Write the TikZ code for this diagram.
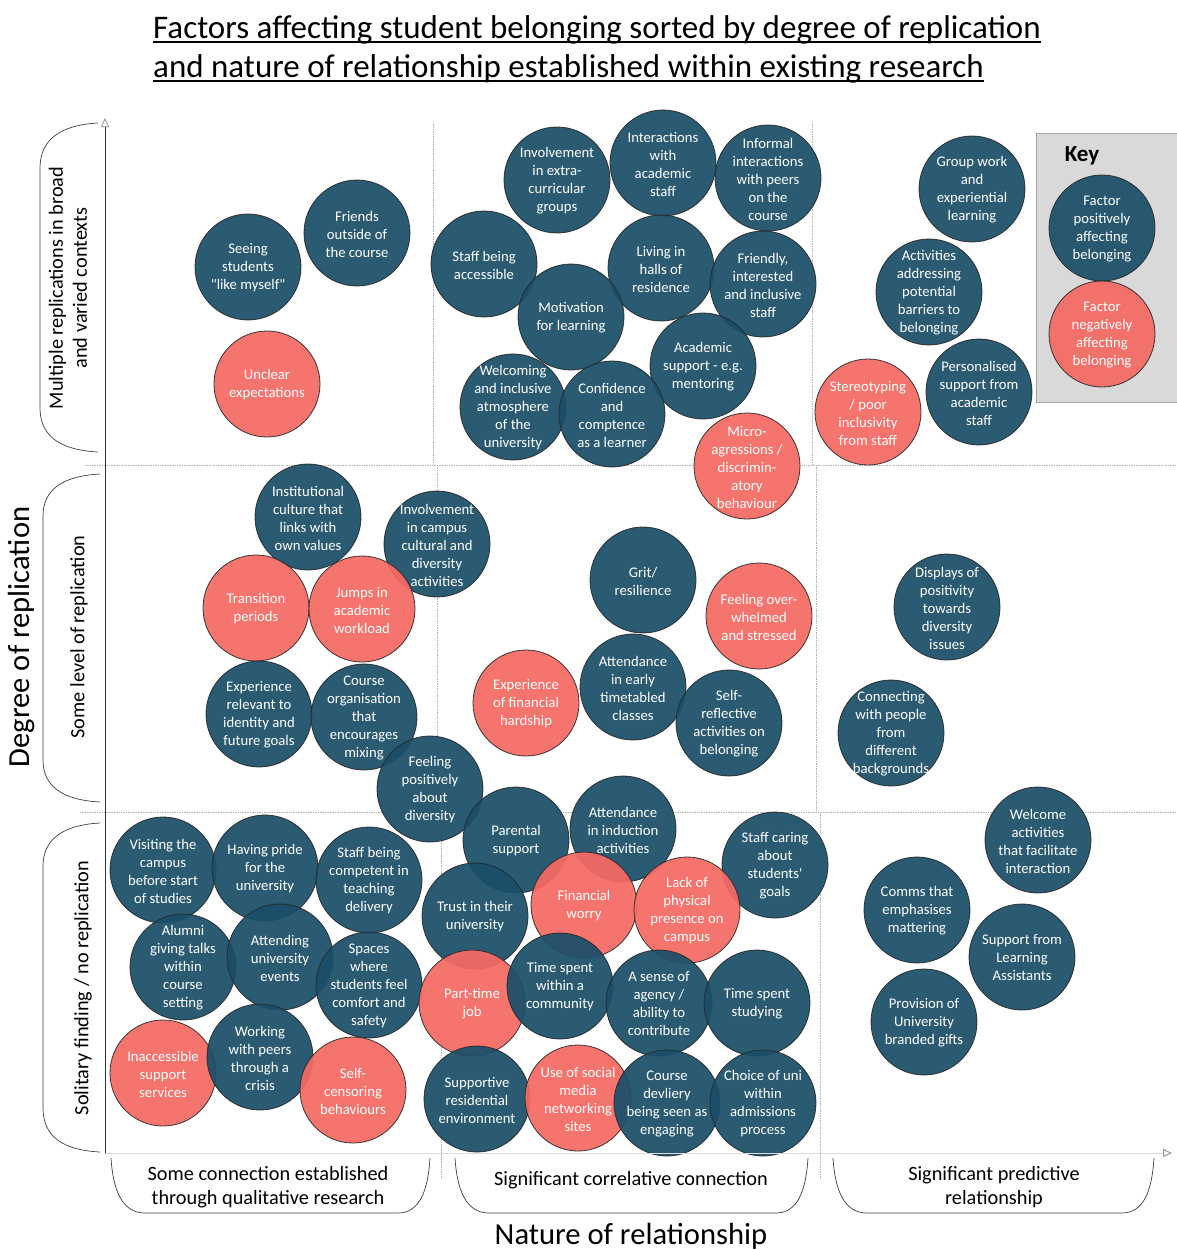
\documentclass[tikz,border=0pt]{standalone}
\usepackage{fontspec}
\setmainfont{Carlito}
\newfontfamily\cfont{Carlito}
\usetikzlibrary{arrows.meta}
\definecolor{cblue}{RGB}{26,79,105}
\definecolor{cred}{RGB}{246,106,99}
\definecolor{keygray}{RGB}{217,217,217}
\pgfdeclarelayer{circ}
\pgfsetlayers{circ,main}
\tikzset{
 fac/.style={circle, draw=black!85, line width=0.8pt, minimum size=106pt, inner sep=0pt, fill opacity=0.93, draw opacity=0.9},
 posf/.style={fac, fill=cblue},
 negf/.style={fac, fill=cred},
 ftxt/.style={align=center, inner sep=0pt, text=white, yshift=-1pt, font=\cfont\fontsize{14.7}{18}\selectfont},
 gridline/.style={draw=black!30, densely dotted, line width=0.7pt},
 brk/.style={draw=black!75, line width=0.7pt},
 bandlbl/.style={align=center, inner sep=0pt, font=\fontsize{20.3}{24}\selectfont},
 biglbl/.style={inner sep=0pt, font=\fontsize{30.6}{34}\selectfont},
 ttl/.style={inner sep=0pt, anchor=base west, font=\fontsize{33}{39}\selectfont},
 uline/.style={line width=1.8pt},
}
\newcommand\fcirc[4]{%
 \begin{pgfonlayer}{circ}\node[#1] (#2) at (#3) {};\end{pgfonlayer}
 \node[ftxt] (#2t) at (#2.center) {#4};}
\begin{document}
\begin{tikzpicture}[x=1pt,y=-1pt]
\begin{pgfonlayer}{circ}
\fill[white] (0,0) rectangle (1176,1250);
\end{pgfonlayer}
\useasboundingbox (0,0) rectangle (1176,1250);

% title
\node[ttl] (t1) at (153,38) {Factors affecting student belonging sorted by degree of replication};
\node[ttl] (t2) at (153,77) {and nature of relationship established within existing research};
\draw[uline] ([yshift=-4pt]t1.base west) -- ([yshift=-4pt]t1.base east);
\draw[uline] ([yshift=-4pt]t2.base west) -- ([yshift=-4pt]t2.base east);

% grid
\begin{pgfonlayer}{circ}
\draw[gridline] (433,122) -- (433,465);
\draw[gridline] (812,122) -- (812,465);
\draw[gridline] (437,465) -- (437,812);
\draw[gridline] (816,465) -- (816,812);
\draw[gridline] (441,812) -- (441,1178);
\draw[gridline] (820,812) -- (820,1178);
\draw[gridline] (85,465) -- (1176,465);
\draw[gridline] (80,812) -- (1176,812);
\end{pgfonlayer}

% key box
\begin{pgfonlayer}{circ}
\draw[fill=keygray, draw=black!35, line width=0.8pt] (1036,133) rectangle (1180,402);
\end{pgfonlayer}
\node[font=\fontsize{23}{26}\selectfont\bfseries, inner sep=0pt] (key) at (1082,156) {Key};

% axes
\coordinate (o) at (105,1153);
\coordinate (ytop) at (105,118);
\coordinate (xend) at (1172,1153);
\draw[draw=black!80, line width=0.7pt, -{Triangle[open, length=9pt, width=8pt, color=black!45]}] (o) -- (ytop);
\draw[draw=black!15, line width=1pt, -{Triangle[open, length=9pt, width=8pt, color=black!40]}] (o) -- (xend);

% left brackets
\draw[brk] (98,123) .. controls (60,125) and (40,140) .. (40,168) -- (40,408) .. controls (40,436) and (60,450) .. (98,452);
\draw[brk] (100,474) .. controls (62,476) and (43,490) .. (43,516) -- (43,760) .. controls (43,786) and (62,800) .. (100,802);
\draw[brk] (100,823) .. controls (62,825) and (43,840) .. (43,866) -- (43,1108) .. controls (43,1136) and (62,1150) .. (100,1152);

% bottom brackets
\draw[brk] (111,1158) .. controls (113,1190) and (122,1213) .. (145,1213) -- (398,1213) .. controls (420,1213) and (428,1190) .. (430,1158);
\draw[brk] (455,1158) .. controls (457,1190) and (466,1213) .. (489,1213) -- (776,1213) .. controls (798,1213) and (806,1190) .. (808,1158);
\draw[brk] (833,1158) .. controls (835,1190) and (844,1213) .. (867,1213) -- (1122,1213) .. controls (1144,1213) and (1152,1190) .. (1154,1158);

% axis labels
\node[biglbl, rotate=90] (ylab) at (22,637) {Degree of replication};
\node[biglbl] (xlab) at (631,1236) {Nature of relationship};
\node[bandlbl, rotate=90] (band1) at (68,288) {Multiple replications in broad\\and varied contexts};
\node[bandlbl, rotate=90] (band2) at (79,637) {Some level of replication};
\node[bandlbl, rotate=90] (band3) at (83,988) {Solitary finding / no replication};
\node[bandlbl] (rel1) at (268,1187) {Some connection established\\through qualitative research};
\node[bandlbl] (rel2) at (631,1180) {Significant correlative connection};
\node[bandlbl] (rel3) at (994,1187) {Significant predictive\\relationship};

% key circles
\fcirc{posf}{k1}{1102,228}{Factor\\positively\\affecting\\belonging}
\fcirc{negf}{k2}{1102,334}{Factor\\negatively\\affecting\\belonging}

% top band
\fcirc{posf}{s1}{248,267}{Seeing\\students\\"like myself"}
\fcirc{posf}{s2}{357,233}{Friends\\outside of\\the course}
\fcirc{negf}{s3}{267,384}{Unclear\\expectations}
\fcirc{posf}{s4}{557,180}{Involvement\\in extra-\\curricular\\groups}
\fcirc{posf}{s5}{663,163}{Interactions\\with\\academic\\staff}
\fcirc{posf}{s6}{768,178}{Informal\\interactions\\with peers\\on the\\course}
\fcirc{posf}{s7}{484,264}{Staff being\\accessible}
\fcirc{posf}{s8}{661,268}{Living in\\halls of\\residence}
\fcirc{posf}{s9}{763,284}{Friendly,\\interested\\and inclusive\\staff}
\fcirc{posf}{s10}{571,317}{Motivation\\for learning}
\fcirc{posf}{s11}{703,366}{Academic\\support - e.g.\\mentoring}
\fcirc{posf}{s12}{513,407}{Welcoming\\and inclusive\\atmosphere\\of the\\university}
\fcirc{posf}{s13}{612,414}{Confidence\\and\\comptence\\as a learner}
\fcirc{negf}{s14}{747,466}{Micro-\\agressions /\\discrimin-\\atory\\behaviour}
\fcirc{posf}{s15}{972,189}{Group work\\and\\experiential\\learning}
\fcirc{posf}{s16}{929,292}{Activities\\addressing\\potential\\barriers to\\belonging}
\fcirc{posf}{s17}{979,392}{Personalised\\support from\\academic\\staff}
\fcirc{negf}{s18}{868,412}{Stereotyping\\/ poor\\inclusivity\\from staff}

% middle band
\fcirc{posf}{m1}{308,517}{Institutional\\culture that\\links with\\own values}
\fcirc{posf}{m2}{437,544}{Involvement\\in campus\\cultural and\\diversity\\activities}
\fcirc{negf}{m3}{256,608}{Transition\\periods}
\fcirc{negf}{m4}{362,609}{Jumps in\\academic\\workload}
\fcirc{posf}{m5}{259,714}{Experience\\relevant to\\identity and\\future goals}
\fcirc{posf}{m6}{364,717}{Course\\organisation\\that\\encourages\\mixing}
\fcirc{posf}{m7}{430,789}{Feeling\\positively\\about\\diversity}
\fcirc{posf}{m8}{643,580}{Grit/\\resilience}
\fcirc{negf}{m9}{759,616}{Feeling over-\\whelmed\\and stressed}
\fcirc{negf}{m10}{526,703}{Experience\\of financial\\hardship}
\fcirc{posf}{m11}{633,687}{Attendance\\in early\\timetabled\\classes}
\fcirc{posf}{m12}{729,723}{Self-\\reflective\\activities on\\belonging}
\fcirc{posf}{m13}{947,607}{Displays of\\positivity\\towards\\diversity\\issues}
\fcirc{posf}{m14}{891,733}{Connecting\\with people\\from\\different\\backgrounds}

% bottom band
\fcirc{posf}{b1}{163,870}{Visiting the\\campus\\before start\\of studies}
\fcirc{posf}{b2}{265,868}{Having pride\\for the\\university}
\fcirc{posf}{b3}{369,880}{Staff being\\competent in\\teaching\\delivery}
\fcirc{posf}{b4}{183,967}{Alumni\\giving talks\\within\\course\\setting}
\fcirc{posf}{b5}{280,957}{Attending\\university\\events}
\fcirc{posf}{b6}{369,985}{Spaces\\where\\students feel\\comfort and\\safety}
\fcirc{negf}{b7}{163,1073}{Inaccessible\\support\\services}
\fcirc{posf}{b8}{260,1057}{Working\\with peers\\through a\\crisis}
\fcirc{negf}{b9}{353,1090}{Self-\\censoring\\behaviours}
\fcirc{posf}{b10}{516,840}{Parental\\support}
\fcirc{posf}{b11}{623,829}{Attendance\\in induction\\activities}
\fcirc{posf}{b12}{775,865}{Staff caring\\about\\students'\\goals}
\fcirc{posf}{b13}{475,916}{Trust in their\\university}
\fcirc{negf}{b14}{584,905}{Financial\\worry}
\fcirc{negf}{b15}{687,910}{Lack of\\physical\\presence on\\campus}
\fcirc{negf}{b16}{472,1003}{Part-time\\job}
\fcirc{posf}{b17}{560,986}{Time spent\\within a\\community}
\fcirc{posf}{b18}{659,1003}{A sense of\\agency /\\ability to\\contribute}
\fcirc{posf}{b19}{757,1003}{Time spent\\studying}
\fcirc{posf}{b20}{477,1099}{Supportive\\residential\\environment}
\fcirc{negf}{b21}{578,1098}{Use of social\\media\\networking\\sites}
\fcirc{posf}{b22}{667,1103}{Course\\devliery\\being seen as\\engaging}
\fcirc{posf}{b23}{763,1103}{Choice of uni\\within\\admissions\\process}
\fcirc{posf}{b24}{1038,840}{Welcome\\activities\\that facilitate\\interaction}
\fcirc{posf}{b25}{917,910}{Comms that\\emphasises\\mattering}
\fcirc{posf}{b26}{1022,957}{Support from\\Learning\\Assistants}
\fcirc{posf}{b27}{924,1022}{Provision of\\University\\branded gifts}
\end{tikzpicture}
\end{document}
